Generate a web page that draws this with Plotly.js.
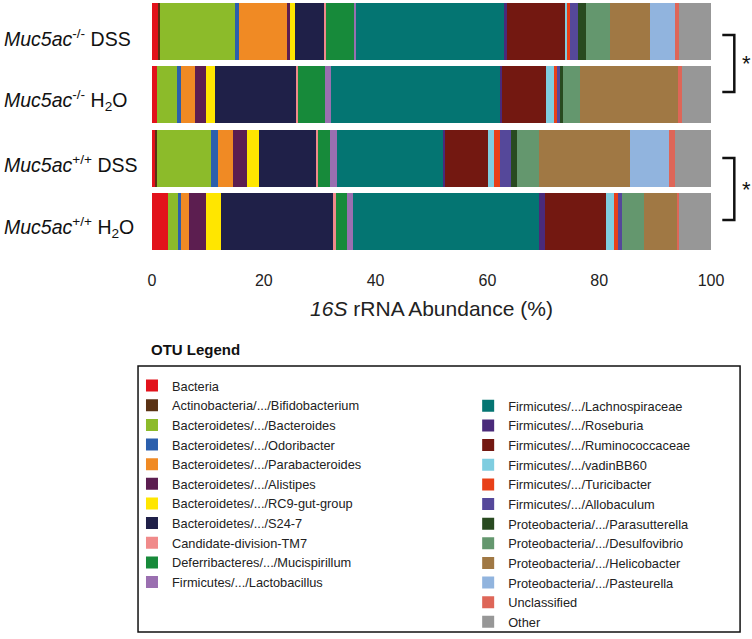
<!DOCTYPE html>
<html><head><meta charset="utf-8">
<script src="https://cdn.plot.ly/plotly-3.0.1.min.js"></script>
<style>html,body{margin:0;padding:0;background:#fff}#chart{width:752px;height:639px}</style>
</head><body><div id="chart"></div>
<script>
// Sample labels (top to bottom)
const samples = [
  '<i>Muc5ac</i><sup>-/-</sup> DSS',
  '<i>Muc5ac</i><sup>-/-</sup> H<sub>2</sub>O',
  '<i>Muc5ac</i><sup>+/+</sup> DSS',
  '<i>Muc5ac</i><sup>+/+</sup> H<sub>2</sub>O'
];
const otuNames = [
  'Bacteria','Actinobacteria/.../Bifidobacterium','Bacteroidetes/.../Bacteroides','Bacteroidetes/.../Odoribacter',
  'Bacteroidetes/.../Parabacteroides','Bacteroidetes/.../Alistipes','Bacteroidetes/.../RC9-gut-group','Bacteroidetes/.../S24-7',
  'Candidate-division-TM7','Deferribacteres/.../Mucispirillum','Firmicutes/.../Lactobacillus',
  'Firmicutes/.../Lachnospiraceae','Firmicutes/.../Roseburia','Firmicutes/.../Ruminococcaceae','Firmicutes/.../vadinBB60',
  'Firmicutes/.../Turicibacter','Firmicutes/.../Allobaculum','Proteobacteria/.../Parasutterella','Proteobacteria/.../Desulfovibrio',
  'Proteobacteria/.../Helicobacter','Proteobacteria/.../Pasteurella','Unclassified','Other'
];
const otuColors = [
  '#e2121b','#5a3214','#8cbb2a','#2b5fad','#f08a24','#5c1e50','#ffe600','#1f2048',
  '#f08a8a','#178a3a','#9a6fb0','#047572','#4a2a7a','#731811','#7fcde0',
  '#e84018','#55489a','#284a20','#64976e','#a07844','#91b4de','#de6658','#979797'
];
// Abundance (%) per OTU, in order of otuNames
const koDSS = [1.13,0.3,13.4,0.77,8.5,0.6,0.9,5.2,0.3,4.95,0.5,26.4,0.6,10.45,0.3,0.47,1.43,1.38,4.35,7.17,4.43,0.77,5.68];
const koH2O = [0.95,0,3.47,0.82,2.45,1.9,1.66,14.6,0.18,5.0,1.07,30.25,0.23,7.88,1.43,0.48,0.6,0.6,2.99,17.6,0,0.6,5.19];
const wtDSS = [0.54,0.3,9.67,1.31,2.74,2.5,2.15,10.15,0.3,2.2,1.31,18.97,0.3,7.75,1.02,1.07,1.97,1.02,3.99,16.16,7.1,1.07,6.39];
const wtH2O = [2.92,0,1.79,0.54,1.38,3.04,2.74,20.0,0.54,2.02,1.07,33.24,1.07,10.92,1.43,0.6,0.79,0,3.87,6.09,0,0.25,5.73];
const xTicks = [0,20,40,60,80,100];

const rows = [koDSS, koH2O, wtDSS, wtH2O];
const traces = otuNames.map((name, i) => ({
  type: 'bar', orientation: 'h', name: name,
  y: samples, x: rows.map(r => r[i]),
  marker: {color: otuColors[i], line: {width: 0}},
  legend: i < 11 ? 'legend' : 'legend2',
  hoverinfo: 'name+x'
}));

const font = {family: 'Liberation Sans, Arial, sans-serif', color: '#222'};
const legendCommon = {
  bgcolor: 'rgba(0,0,0,0)', borderwidth: 0, orientation: 'v',
  font: {family: font.family, size: 12.8, color: '#222'},
  xanchor: 'left', yanchor: 'top', traceorder: 'normal', itemwidth: 30
};
// left-aligned sample labels placed on the category axis
const sampleLabels = samples.map(s => ({
  text: s, xref: 'paper', yref: 'y', x: -0.2685, y: s, xanchor: 'left', yanchor: 'middle',
  yshift: -6, showarrow: false, font: {size: 19.5, color: '#111'}
}));
const layout = {
  width: 752, height: 639,
  margin: {l: 152, r: 41, t: 0, b: 386, autoexpand: false},
  paper_bgcolor: '#fff', plot_bgcolor: '#fff',
  barmode: 'stack', bargap: 0.1,
  font: font,
  showlegend: true,
  xaxis: {
    range: [0, 100], tickvals: xTicks, ticktext: xTicks.map(String), automargin: false,
    showgrid: false, zeroline: false, showline: false,
    ticks: '', ticklabelstandoff: 16, tickfont: {size: 16, color: '#222'},
    title: {text: '<i>16S</i> rRNA Abundance (%)', font: {size: 21, color: '#222'}, standoff: 13}
  },
  yaxis: {
    autorange: 'reversed', showgrid: false, zeroline: false, showline: false, automargin: false,
    ticks: '', showticklabels: false
  },
  legend: Object.assign({}, legendCommon, {x: -0.0358, y: -0.4656}),
  legend2: Object.assign({}, legendCommon, {x: 0.5656, y: -0.5455}),
  shapes: [
    {type: 'rect', xref: 'paper', yref: 'paper', x0: -0.025, x1: 1.052, y0: -0.4466, y1: -1.498,
     line: {color: '#111', width: 1.5}, fillcolor: 'rgba(0,0,0,0)'},
    // significance brackets
    {type: 'path', xref: 'paper', yref: 'paper',
     path: 'M 1.0202,0.8617 L 1.0417,0.8617 L 1.0417,0.636 L 1.0202,0.636', line: {color: '#111', width: 2.5}},
    {type: 'path', xref: 'paper', yref: 'paper',
     path: 'M 1.0202,0.3755 L 1.0417,0.3755 L 1.0417,0.130 L 1.0202,0.130', line: {color: '#111', width: 2.5}}
  ],
  annotations: sampleLabels.concat([
    {text: '<b>OTU Legend</b>', xref: 'paper', yref: 'paper', x: -0.005, y: -0.383, xanchor: 'left', yanchor: 'middle',
     showarrow: false, font: {size: 15, color: '#111'}},
    {text: '*', xref: 'paper', yref: 'paper', x: 1.063, y: 0.75, xanchor: 'center', yanchor: 'middle',
     showarrow: false, font: {size: 22, color: '#111'}},
    {text: '*', xref: 'paper', yref: 'paper', x: 1.063, y: 0.252, xanchor: 'center', yanchor: 'middle',
     showarrow: false, font: {size: 22, color: '#111'}}
  ])
};
Plotly.newPlot('chart', traces, layout, {displayModeBar: false, responsive: false});
</script></body></html>
